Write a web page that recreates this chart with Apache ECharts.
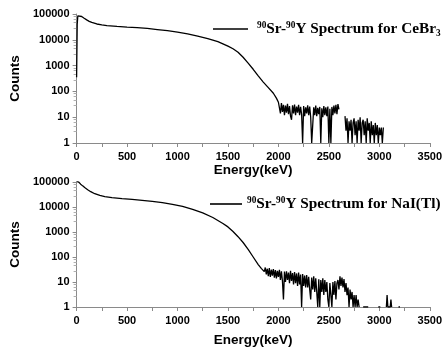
<!DOCTYPE html>
<html><head><meta charset="utf-8">
<script src="https://cdn.jsdelivr.net/npm/echarts@6/dist/echarts.min.js"></script>
<style>html,body{margin:0;padding:0;background:#fff}#c{width:445px;height:351px}</style>
</head><body><div id="c"></div>
<script>
// ---- Data ----
const xTicks = [0, 500, 1000, 1500, 2000, 2500, 3000, 3500];
const yTicks = [1, 10, 100, 1000, 10000, 100000];

const ceName = '90Sr-90Y Spectrum for CeBr3';
const naiName = '90Sr-90Y Spectrum for NaI(Tl)';

const ceEnergy = [0,6,12,20,30,50,75,100,125,150,200,250,300,400,500,600,700,800,900,1000,1100,1200,1300,1400,1450,1500,1550,1600,1650,1700,1750,1800,1850,1900,1950,1980,2000,
2010,2020,2030,2040,2050,2060,2070,2080,2090,2100,2110,2120,2130,2140,2150,2160,2170,2180,2190,2200,
2210,2220,2230,2240,2250,2260,2270,2280,2290,2300,2310,2320,2330,2340,2350,2360,2370,2380,2390,2400,
2410,2420,2430,2440,2450,2460,2470,2480,2490,2500,2510,2520,2530,2540,2550,2560,2570,2580,2590,2600,
2620,
2660,2670,2680,2690,2700,2710,2720,2730,2740,2750,2760,2770,2780,2790,2800,2810,2820,2830,2840,2850,
2860,2870,2880,2890,2900,2910,2920,2930,2940,2950,2960,2970,2980,2990,3000,3010,3020,3030,3040];
const ceCounts = [350,40000,85000,100000,95000,80000,68000,59000,52000,47000,41000,38000,35500,33000,31000,29500,27500,25000,22500,19800,17000,14000,11200,8500,7000,5700,4500,3300,2100,1250,720,400,230,140,85,55,38,
32,14,35,16,30,12,28,15,33,13,27,11,8,29,14,31,12,26,15,30,
12,25,13,1,27,11,24,14,29,12,26,10,1,1,24,12,28,11,23,13,
25,1,22,10,27,12,24,11,26,1,21,1,25,12,28,14,30,13,32,20,
null,
11,3,9,1,7,3,8,1,6,9,2,7,1,8,3,10,1,6,8,2,
7,1,9,3,6,1,7,2,5,1,6,2,5,1,4,2,4,1,4];

const naiEnergy = [0,8,20,40,60,80,110,140,180,230,280,350,450,550,650,750,850,950,1050,1150,1250,1350,1450,1500,1550,1600,1650,1700,1750,1800,1830,1860,
1870,1880,1890,1900,1910,1920,1930,1940,1950,1960,1970,1980,1990,2000,2010,2020,2030,2040,2050,2060,
2070,2080,2090,2100,2110,2120,2130,2140,2150,2160,2170,2180,2190,2200,2210,2220,2230,2240,2250,2260,
2270,2280,2290,2300,2310,2320,2330,2340,2350,2360,2370,2380,2390,2400,2410,2420,2430,2440,2450,2460,
2470,2480,2490,2500,2510,2520,2530,2540,2550,2560,2570,2580,2590,2600,2610,2620,2630,2640,2650,2660,
2670,2680,2690,2700,2710,2720,2730,2740,2750,2760,2770,2780,2790,2800,
2820,2840,2890,2920,2990,3010,3040,3070,3077,3085,3108,3115,3122,3150,3190,3205];
const naiCounts = [105000,115000,100000,82000,70000,60000,49000,41000,34000,29000,26000,23500,21500,20000,18500,16800,15000,12800,10500,8000,5800,3800,2200,1600,1050,650,380,200,100,50,35,26,
38,20,34,17,36,16,31,18,33,15,30,14,28,16,31,12,27,11,2,26,
10,27,12,24,9,28,11,23,8,25,9,22,7,24,8,20,1,21,7,18,
6,19,6,16,5,2,15,5,17,4,14,4,1,13,1,12,4,14,3,12,
4,10,2,1,9,3,1,10,3,11,2,9,12,5,17,7,15,6,13,4,
9,3,6,1,5,2,4,1,3,1,3,1,2,1,
null,1,1,null,1,1,null,1,3,1,1,2,1,null,1,1];

// ---- Chart ----
function pairs(e, c) { return e.map((x, i) => [x, c[i] === null ? '-' : c[i]]); }

const axisGray = '#8a8a8a';
const sansBold = { fontFamily: 'Liberation Sans', fontWeight: 'bold', color: '#000' };

function xAxis(i, nameGap) {
  return {
    gridIndex: i, type: 'value', min: xTicks[0], max: xTicks[xTicks.length - 1], interval: 500,
    name: 'Energy(keV)', nameLocation: 'middle', nameGap: nameGap,
    nameTextStyle: Object.assign({ fontSize: 13.5 }, sansBold),
    axisLine: { onZero: false, lineStyle: { color: axisGray, width: 1 } },
    axisTick: { show: true, length: 4, lineStyle: { color: axisGray } },
    minorTick: { show: true, splitNumber: 2, length: 4, lineStyle: { color: axisGray } },
    axisLabel: Object.assign({ margin: 8, fontSize: 11, formatter: v => String(Math.round(v)) }, sansBold),
    splitLine: { show: false }, minorSplitLine: { show: false }
  };
}
function yAxis(i) {
  return {
    gridIndex: i, type: 'log', logBase: 10, min: yTicks[0], max: yTicks[yTicks.length - 1],
    name: 'Counts', nameLocation: 'middle', nameGap: 40,
    nameTextStyle: Object.assign({ fontSize: 13.5 }, sansBold),
    axisLine: { show: true, lineStyle: { color: axisGray, width: 1 } },
    axisTick: { show: true, length: 4, lineStyle: { color: axisGray } },
    minorTick: { show: true, splitNumber: 5, length: 3, lineStyle: { color: '#b0b0b0' } },
    axisLabel: Object.assign({ margin: 7, fontSize: 11, formatter: v => String(Math.round(v)) }, sansBold),
    splitLine: { show: false }, minorSplitLine: { show: false }
  };
}
const serifB = { fontFamily: 'Liberation Serif', fontWeight: 'bold', color: '#000' };
const rich = {
  g: { width: 4, fontSize: 15, lineHeight: 18 },
  m: Object.assign({ fontSize: 15.3, lineHeight: 18 }, serifB),
  sup: Object.assign({ fontSize: 9.3, lineHeight: 18, verticalAlign: 'top', padding: [1, 0, 0, 0] }, serifB),
  sub: Object.assign({ fontSize: 9.3, lineHeight: 18, verticalAlign: 'bottom' }, serifB)
};
function legendFmt(name) {
  if (name === ceName) return '{g| }{sup|90}{m|Sr-}{sup|90}{m|Y Spectrum for CeBr}{sub|3}';
  return '{sup|90}{m|Sr-}{sup|90}{m|Y Spectrum for NaI(Tl)}';
}
function legend(name, left, top, w) {
  return {
    data: [name], left: left, top: top, icon: 'rect', itemWidth: w, itemHeight: 1.6,
    formatter: legendFmt, textStyle: Object.assign({ rich: rich, fontSize: 15 }, serifB),
    padding: 0, selectedMode: false
  };
}
function series(name, i, e, c) {
  return {
    name: name, type: 'line', xAxisIndex: i, yAxisIndex: i, data: pairs(e, c),
    symbol: 'none', connectNulls: false, animation: false,
    lineStyle: { color: '#000', width: 1.3 }, itemStyle: { color: '#000' }
  };
}

const chart = echarts.init(document.getElementById('c'), null, { renderer: 'canvas' });
chart.setOption({
  backgroundColor: '#fff',
  animation: false,
  grid: [
    { left: 72, right: 12, top: 14, height: 129 },
    { left: 72, right: 12, top: 182, height: 125 }
  ],
  xAxis: [xAxis(0, 18), xAxis(1, 26)],
  yAxis: [yAxis(0), yAxis(1)],
  legend: [legend(ceName, 213, 20, 35), legend(naiName, 210, 195, 32)],
  series: [series(ceName, 0, ceEnergy, ceCounts), series(naiName, 1, naiEnergy, naiCounts)]
});
</script>
</body></html>
